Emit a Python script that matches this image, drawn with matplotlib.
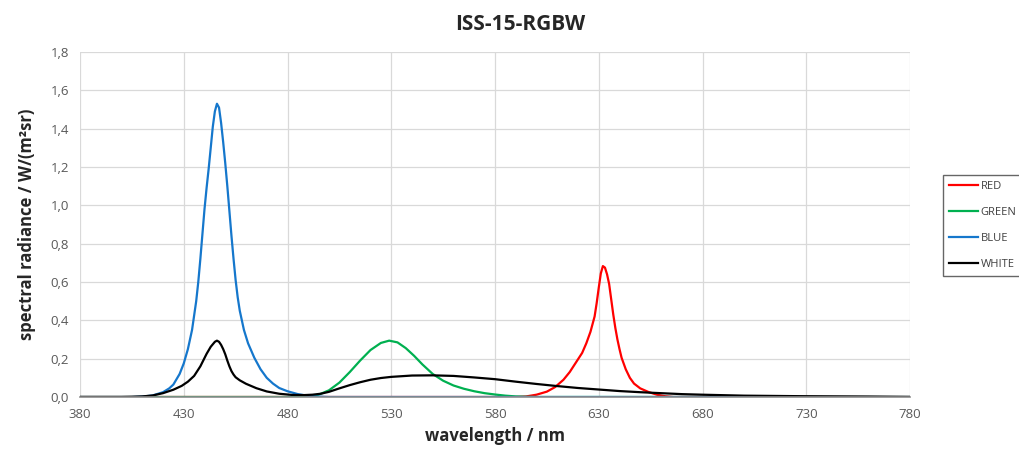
import matplotlib
matplotlib.use("Agg")
import matplotlib.pyplot as plt

plt.rcParams['font.family'] = ['Open Sans', 'DejaVu Sans']

title = "ISS-15-RGBW"
x_label = "wavelength / nm"
y_label = "spectral radiance / W/(m²sr)"
x_ticks = [380, 430, 480, 530, 580, 630, 680, 730, 780]
y_ticks = [0.0, 0.2, 0.4, 0.6, 0.8, 1.0, 1.2, 1.4, 1.6, 1.8]
y_tick_labels = ["0,0", "0,2", "0,4", "0,6", "0,8", "1,0", "1,2", "1,4", "1,6", "1,8"]

red_nm = [380, 590, 595, 600, 605, 609, 613, 616, 619, 622, 624, 626, 628, 629, 630, 631, 632,
          633, 634, 635, 636, 637, 638, 639, 640, 641, 643, 645, 647, 650, 654, 658, 662, 666, 780]
red_val = [0, 0, 0.003, 0.012, 0.028, 0.052, 0.09, 0.13, 0.18, 0.23, 0.28, 0.34, 0.42, 0.49, 0.57,
           0.645, 0.683, 0.675, 0.64, 0.59, 0.51, 0.43, 0.36, 0.3, 0.25, 0.205, 0.145, 0.1, 0.07,
           0.045, 0.026, 0.012, 0.004, 0, 0]

green_nm = [380, 485, 490, 495, 500, 505, 510, 515, 520, 525, 529, 533, 537, 541, 545, 550, 555,
            560, 565, 570, 575, 580, 585, 590, 595, 600, 780]
green_val = [0, 0, 0.003, 0.012, 0.035, 0.075, 0.13, 0.19, 0.245, 0.282, 0.294, 0.285, 0.255, 0.215,
             0.17, 0.12, 0.085, 0.06, 0.043, 0.03, 0.02, 0.013, 0.007, 0.003, 0.001, 0, 0]

blue_nm = [380, 405, 410, 415, 420, 423, 425, 428, 430, 432, 434, 436, 437, 438, 439, 440, 441, 442,
           443, 444, 445, 446, 447, 448, 449, 450, 451, 452, 453, 454, 455, 456, 457, 459, 461, 464,
           467, 470, 473, 476, 480, 485, 490, 495, 500, 780]
blue_val = [0, 0, 0.002, 0.008, 0.025, 0.045, 0.065, 0.12, 0.175, 0.25, 0.35, 0.5, 0.6, 0.72, 0.85,
            0.98, 1.09, 1.19, 1.3, 1.41, 1.49, 1.53, 1.51, 1.43, 1.33, 1.22, 1.1, 0.97, 0.84, 0.72,
            0.61, 0.52, 0.45, 0.35, 0.28, 0.205, 0.145, 0.1, 0.07, 0.047, 0.03, 0.015, 0.006, 0.002,
            0, 0]

white_nm = [380, 400, 405, 410, 415, 420, 425, 429, 432, 435, 438, 441, 443, 445, 446, 447, 448, 449,
            450, 451, 452, 453, 454, 455, 457, 460, 465, 470, 476, 482, 488, 492, 496, 500, 505, 510,
            515, 520, 525, 530, 540, 550, 560, 570, 580, 590, 600, 610, 620, 630, 640, 650, 660, 670,
            680, 700, 730, 760, 780]
white_val = [0, 0, 0.001, 0.003, 0.008, 0.02, 0.038, 0.058, 0.08, 0.11, 0.16, 0.225, 0.262, 0.288,
             0.294, 0.288, 0.272, 0.25, 0.223, 0.19, 0.16, 0.135, 0.117, 0.103, 0.087, 0.069, 0.046,
             0.029, 0.017, 0.011, 0.01, 0.012, 0.017, 0.027, 0.045, 0.062, 0.077, 0.09, 0.099, 0.105,
             0.112, 0.113, 0.11, 0.102, 0.093, 0.08, 0.068, 0.057, 0.047, 0.039, 0.031, 0.025, 0.02,
             0.015, 0.012, 0.007, 0.004, 0.002, 0]

series = [("RED", red_nm, red_val, "#ff0000"),
          ("GREEN", green_nm, green_val, "#00b050"),
          ("BLUE", blue_nm, blue_val, "#1577cc"),
          ("WHITE", white_nm, white_val, "#000000")]

fig = plt.figure(figsize=(10.19, 4.53), dpi=100)
ax = fig.add_axes([80/1019, 1-397/453, 830/1019, 345/453])

for name, xs, ys, c in series:
    ax.plot(xs, ys, color=c, lw=1.6, label=name, solid_joinstyle='round')

ax.set_xlim(380, 780)
ax.set_ylim(0, 1.8)
ax.set_xticks(x_ticks)
ax.set_yticks(y_ticks)
ax.set_yticklabels(y_tick_labels)
ax.grid(True, color="#d9d9d9", lw=0.9)
ax.set_axisbelow(True)
for s in ["top", "right", "left"]:
    ax.spines[s].set_visible(False)
ax.spines["bottom"].set_color("#8c8c8c")
ax.spines["bottom"].set_linewidth(1.2)
ax.tick_params(length=0, labelsize=9.5, colors="#595959", pad=8)
ax.set_xlabel(x_label, fontsize=12, fontweight="bold", color="#262626", labelpad=4)
ax.set_ylabel(y_label, fontsize=12, fontweight="bold", color="#262626", labelpad=10)
fig.text(520/1019, 1-24/453, title, ha="center", va="center", fontsize=15,
         fontweight="bold", color="#262626")

leg = fig.legend(loc="upper left", bbox_to_anchor=(943/1019, 1-175/453),
                 fontsize=8, frameon=True, fancybox=False, handlelength=2.6,
                 handletextpad=0.25, labelspacing=1.35, borderpad=0.55, borderaxespad=0)
leg.get_frame().set_edgecolor("#404040")
leg.get_frame().set_linewidth(1.0)
for t in leg.get_texts():
    t.set_color("#404040")

fig.savefig("out.png", dpi=100)
